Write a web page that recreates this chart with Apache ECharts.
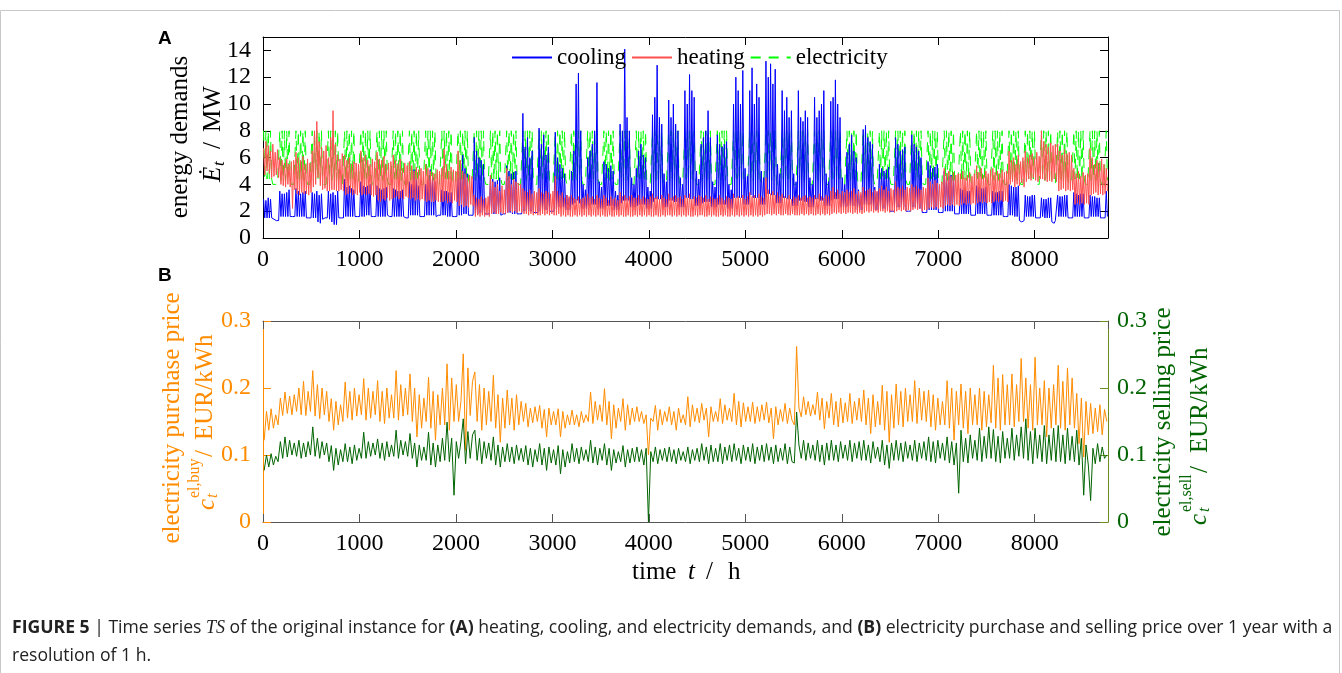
<!DOCTYPE html>
<html>
<head>
<meta charset="utf-8">
<script src="https://cdn.jsdelivr.net/npm/echarts@6/dist/echarts.min.js"></script>
<style>
  html, body { margin: 0; padding: 0; background: #fff; }
  #main { width: 1342px; height: 673px; }
</style>
</head>
<body>
<div id="main"></div>
<script>
// demands: two readings per day (day / night), one row per week
// prices: one reading per day, one row per week
const HALF_DAY_H = 12;
const DAY_H = 24;

// cooling demand, MW
const cooling = [
  2.9,1.5,2.8,1.5,3.0,1.5,2.9,1.5,1.4,1.4,1.3,1.3,1.2,1.3,
  3.5,1.6,3.3,1.6,3.3,1.6,3.4,1.6,3.6,1.6,1.6,1.6,1.5,1.6,
  3.7,1.6,3.5,1.6,3.3,1.6,3.4,1.6,3.5,1.5,1.5,1.5,1.5,1.5,
  3.4,1.5,3.3,1.5,3.5,1.2,3.2,1.1,3.3,1.4,1.4,1.5,1.5,1.5,
  3.5,1.4,3.3,1.2,3.4,1.0,3.2,1.0,3.5,1.5,1.5,1.5,1.5,1.5,
  4.4,1.6,3.8,1.6,3.9,1.6,3.7,1.6,3.6,1.6,1.6,1.6,1.6,1.6,
  4.2,1.6,3.9,1.6,3.8,1.7,3.9,1.7,4.0,1.6,1.6,1.6,1.6,1.6,
  3.9,1.6,3.7,1.6,3.6,1.6,3.7,1.6,3.8,1.7,1.7,1.6,1.6,1.6,
  3.7,1.6,3.6,1.6,3.5,1.6,3.5,1.6,3.6,1.6,1.6,1.5,1.5,1.5,
  4.2,1.7,4.0,1.7,5.1,1.7,4.4,1.7,3.9,1.6,1.6,1.6,1.6,1.6,
  4.0,1.7,4.3,1.7,5.1,1.7,4.5,1.7,4.2,1.6,1.6,1.7,1.7,1.7,
  3.6,1.7,3.5,1.7,3.5,1.6,3.4,1.6,3.4,1.6,1.6,1.6,1.6,1.6,
  4.5,1.7,5.0,1.7,6.2,1.8,5.2,1.8,4.8,1.7,1.7,1.7,1.7,1.7,
  7.5,1.8,6.5,1.8,6.0,1.9,5.8,1.9,5.5,1.8,1.8,1.8,1.8,1.8,
  4.7,1.8,4.4,1.8,4.2,1.8,4.3,1.8,4.5,1.7,1.7,1.8,1.8,1.8,
  5.4,1.9,5.0,1.9,4.8,1.8,4.9,1.8,5.0,1.8,1.8,1.8,1.8,1.8,
  9.3,2.0,6.8,2.0,7.5,2.0,6.0,2.0,6.5,1.9,1.9,1.9,1.9,1.9,
  8.2,2.0,7.0,2.1,7.7,2.1,6.2,2.1,6.8,2.0,2.0,2.0,1.9,2.0,
  7.9,2.2,6.0,2.3,5.5,2.3,5.2,2.3,4.8,2.1,3.2,2.1,3.0,2.1,
  5.0,2.5,6.5,2.6,11.5,2.8,12.3,2.6,8.0,2.2,4.0,2.2,3.6,2.2,
  6.0,2.4,6.5,2.5,7.0,2.5,8.0,2.5,11.6,2.2,4.2,2.2,3.8,2.2,
  5.7,2.3,5.5,2.4,5.2,2.4,5.4,2.4,5.0,2.1,3.5,2.1,3.2,2.1,
  8.5,2.6,8.0,2.8,14.1,2.8,9.0,2.8,8.0,2.3,4.5,2.3,4.0,2.3,
  5.2,2.4,6.5,2.5,7.0,2.5,6.2,2.5,6.0,2.2,3.8,2.2,3.5,2.2,
  9.2,2.7,10.5,2.9,12.9,2.9,9.0,2.9,8.5,2.3,4.8,2.3,4.2,2.3,
  10.3,2.8,9.0,2.8,10.0,2.7,8.5,2.7,8.0,2.3,4.5,2.3,4.0,2.3,
  11.0,3.0,10.0,3.0,12.2,2.9,11.0,2.9,10.5,2.4,5.0,2.4,4.4,2.4,
  7.0,2.6,7.5,2.7,8.0,2.7,9.5,2.7,7.5,2.3,4.2,2.3,3.8,2.3,
  7.7,2.5,7.0,2.5,6.8,2.5,7.0,2.5,7.2,2.2,4.0,2.2,3.6,2.2,
  10.0,3.0,12.0,3.0,11.0,3.0,10.0,3.0,12.5,2.5,5.2,2.5,4.6,2.5,
  11.0,3.2,12.7,3.0,10.0,3.0,11.5,3.0,10.5,2.5,5.0,2.5,4.5,2.5,
  13.2,3.3,12.0,3.3,13.0,3.2,11.5,3.2,12.6,2.6,5.5,2.6,4.8,2.6,
  11.0,3.0,9.5,3.0,10.5,2.9,9.0,2.9,9.5,2.4,4.8,2.4,4.2,2.4,
  11.0,2.8,9.0,2.8,8.7,2.7,9.5,2.7,9.0,2.3,4.5,2.3,4.0,2.3,
  10.5,2.9,9.0,2.9,9.5,2.8,10.0,2.8,11.0,2.4,4.8,2.4,4.2,2.4,
  10.2,2.8,10.5,2.9,11.8,2.9,10.0,2.9,9.0,2.3,4.5,2.3,4.0,2.3,
  6.4,2.4,7.0,2.4,7.7,2.4,6.5,2.4,6.0,2.1,3.6,2.1,3.2,2.1,
  8.1,2.5,8.4,2.5,7.5,2.5,7.2,2.5,7.0,2.1,3.8,2.1,3.4,2.1,
  5.5,2.2,5.2,2.2,5.0,2.2,5.1,2.2,5.3,2.0,2.0,2.0,1.9,2.0,
  7.5,2.3,7.0,2.3,6.5,2.3,6.6,2.3,6.8,2.0,2.0,2.0,1.9,2.0,
  7.7,2.3,7.0,2.3,6.8,2.2,6.5,2.2,6.0,1.9,1.9,1.9,1.9,1.9,
  5.7,2.1,5.4,2.1,5.2,2.1,5.3,2.1,5.5,1.9,1.9,1.9,1.8,1.9,
  5.0,2.0,4.8,2.0,4.6,2.0,4.7,2.0,4.8,1.8,1.8,1.8,1.8,1.8,
  3.7,1.8,3.6,1.8,3.6,1.8,3.5,1.8,3.5,1.7,1.7,1.7,1.7,1.7,
  3.9,1.8,3.8,1.8,3.7,1.8,3.7,1.8,3.8,1.7,1.7,1.7,1.6,1.7,
  3.5,1.7,3.4,1.7,3.4,1.7,3.5,1.7,3.5,1.6,1.6,1.6,1.6,1.6,
  4.0,1.7,3.9,1.7,3.8,1.6,3.8,1.6,3.9,1.3,1.2,1.2,1.3,1.3,
  3.2,1.6,3.1,1.6,3.1,1.6,3.2,1.6,3.2,1.5,1.5,1.5,1.5,1.5,
  3.0,1.6,2.9,1.5,2.9,1.5,3.0,1.5,3.0,1.2,1.1,1.1,1.3,1.3,
  3.2,1.6,3.1,1.6,3.1,1.6,3.2,1.6,3.2,1.5,1.5,1.5,1.5,1.5,
  3.4,1.6,3.3,1.6,3.2,1.6,3.3,1.6,3.3,1.5,1.5,1.5,1.5,1.5,
  3.2,1.6,3.1,1.6,3.1,1.6,3.0,1.6,3.0,1.5,1.5,1.5,1.5,1.5,
  3.5,1.6
];

// heating demand, MW
const heating = [
  6.7,4.7,7.2,5.0,6.9,4.8,6.5,4.5,7.0,4.6,6.4,4.7,6.6,4.5,
  6.0,4.0,5.8,3.9,5.6,3.8,5.9,4.0,5.5,3.8,5.7,2.2,5.8,3.6,
  6.4,3.3,6.0,3.2,5.8,3.4,6.1,3.3,5.5,3.3,5.9,3.2,5.6,3.4,
  6.5,3.8,8.0,4.0,8.7,4.5,7.2,3.9,6.8,3.6,6.5,3.7,6.9,3.5,
  6.0,3.5,7.5,3.6,9.5,3.6,7.0,3.5,6.2,3.5,5.9,3.6,6.3,3.5,
  6.2,3.2,5.8,3.3,6.0,3.4,5.5,3.2,5.7,3.3,5.6,3.2,5.5,3.4,
  6.5,3.2,6.0,3.3,6.2,3.2,5.8,3.3,5.5,3.2,5.9,3.1,5.7,3.2,
  6.4,2.8,5.9,2.7,5.8,2.9,6.1,2.8,5.5,3.0,5.6,2.8,5.7,2.9,
  6.2,3.0,5.8,3.1,5.5,2.9,5.9,3.0,5.2,2.9,5.6,3.1,5.4,3.0,
  5.7,2.9,5.4,3.0,5.0,2.8,5.3,2.9,5.1,2.8,5.2,2.9,5.0,2.8,
  5.5,2.7,5.2,2.8,5.0,2.7,4.9,2.7,4.8,2.8,5.1,2.7,5.0,2.7,
  5.2,2.7,6.6,2.8,5.5,2.6,5.0,2.7,5.3,2.6,5.1,2.8,5.0,2.7,
  6.5,2.4,5.8,2.5,5.0,2.3,4.8,2.4,4.5,2.3,4.7,2.5,4.6,2.4,
  3.2,1.6,3.0,1.7,2.9,1.6,3.1,1.7,2.9,1.6,3.0,1.7,3.1,1.6,
  4.7,1.8,4.2,1.9,3.8,1.8,4.0,1.8,3.5,1.9,3.9,1.8,3.6,1.8,
  5.2,1.9,4.6,2.0,4.0,1.9,4.4,2.0,4.2,1.9,4.1,2.0,4.0,1.9,
  3.7,1.8,3.5,1.8,3.4,1.7,3.6,1.8,3.3,1.7,3.5,1.8,3.4,1.7,
  3.7,1.7,3.4,1.8,3.3,1.7,3.5,1.8,3.4,1.7,3.3,1.8,3.5,1.7,
  4.6,1.7,3.5,1.8,3.2,1.6,3.4,1.7,3.0,1.6,3.2,1.7,3.1,1.6,
  3.2,1.6,3.0,1.7,2.9,1.6,3.1,1.7,2.9,1.6,3.0,1.7,3.1,1.6,
  3.3,1.7,3.0,1.6,3.1,1.7,2.9,1.6,3.2,1.7,3.0,1.6,2.9,1.7,
  3.2,1.6,3.0,1.6,2.8,1.7,3.1,1.6,2.9,1.6,3.0,1.7,2.8,1.6,
  3.4,1.7,3.1,1.6,3.2,1.6,3.0,1.7,3.1,1.6,3.2,1.6,3.0,1.7,
  3.0,1.6,3.2,1.7,2.9,1.6,3.1,1.7,3.0,1.6,2.9,1.7,3.1,1.6,
  3.3,1.6,3.0,1.7,3.1,1.6,2.9,1.6,3.2,1.7,3.0,1.6,2.9,1.7,
  3.3,1.7,3.0,1.6,3.1,1.7,3.2,1.6,3.0,1.7,3.1,1.6,2.9,1.7,
  3.2,1.6,3.0,1.7,3.3,1.6,2.9,1.6,3.1,1.7,3.0,1.6,3.2,1.7,
  3.1,1.7,3.0,1.6,3.2,1.6,2.9,1.7,3.1,1.6,3.0,1.7,2.9,1.6,
  3.0,1.6,3.2,1.7,3.0,1.6,2.8,1.7,3.1,1.6,3.0,1.6,2.9,1.7,
  3.3,1.6,3.0,1.7,3.1,1.6,3.0,1.7,3.2,1.6,2.9,1.7,3.1,1.6,
  3.4,1.7,3.1,1.6,3.2,1.7,3.0,1.6,3.3,1.7,3.1,1.6,3.0,1.7,
  4.5,1.8,3.6,1.8,3.3,1.7,3.5,1.8,3.2,1.7,3.4,1.8,3.1,1.7,
  3.3,1.7,3.1,1.8,3.0,1.7,3.2,1.7,2.9,1.8,3.1,1.7,3.0,1.7,
  3.2,1.7,3.0,1.8,3.1,1.7,3.2,1.8,3.0,1.7,3.1,1.8,3.0,1.7,
  3.2,1.7,3.0,1.8,3.3,1.7,3.1,1.8,3.0,1.7,3.2,1.8,3.1,1.7,
  3.5,1.8,3.8,1.9,3.4,1.8,3.6,1.9,3.3,1.8,3.5,1.9,3.4,1.8,
  3.6,1.9,3.4,1.9,3.5,1.8,3.7,1.9,3.3,1.8,3.5,1.9,3.4,1.8,
  3.8,1.9,3.5,2.0,3.6,1.9,3.7,2.0,3.4,1.9,3.6,2.0,3.5,1.9,
  3.7,2.0,3.9,2.0,3.6,1.9,3.8,2.0,3.5,1.9,3.7,2.0,3.6,1.9,
  4.2,2.0,3.8,2.1,3.7,2.0,3.9,2.1,3.6,2.0,3.8,2.1,3.7,2.0,
  4.0,2.1,3.8,2.2,3.9,2.1,3.7,2.2,3.6,2.0,3.8,2.1,3.7,2.1,
  4.5,2.2,4.2,2.3,4.0,2.2,4.3,2.3,4.1,2.2,4.0,2.3,4.2,2.2,
  5.2,2.4,4.8,2.5,5.0,2.4,4.6,2.5,4.9,2.4,4.7,2.5,4.8,2.4,
  4.8,2.5,5.0,2.6,4.5,2.5,4.7,2.6,4.9,2.5,4.6,2.6,4.8,2.5,
  5.4,2.6,4.9,2.7,5.2,2.6,4.7,2.7,5.0,2.6,4.8,2.7,5.1,2.6,
  5.2,2.7,4.9,2.8,5.0,2.7,4.8,2.8,5.1,2.7,4.9,2.8,5.0,2.7,
  6.5,4.0,5.8,4.2,6.0,3.8,5.5,4.0,6.2,3.9,5.7,4.1,6.0,3.8,
  6.5,4.2,6.0,4.4,6.2,4.3,6.3,4.5,6.0,4.3,6.4,4.2,6.1,4.4,
  8.0,4.4,7.2,4.3,7.0,4.2,6.8,4.3,7.1,4.2,6.9,4.4,7.0,4.2,
  7.0,3.5,6.5,3.6,6.2,3.7,6.6,3.5,6.3,3.6,6.4,3.5,6.2,3.6,
  5.2,2.5,4.8,2.6,5.0,2.5,4.6,2.6,4.9,2.5,4.7,2.6,4.8,2.5,
  6.7,3.2,6.0,3.3,5.5,3.4,5.8,3.2,5.6,3.3,5.9,3.2,5.5,3.3,
  5.2,3.5
];

// electricity demand, MW
const electricity = [
  8,4.3,8,4.4,8,4.3,8,4.4,4,4,4,4,4,4,
  8,4.3,8,4.4,8,4.3,8,4.4,8,4.3,4,4,4,4,
  8,4.4,8,4.3,8,4.4,8,4.3,8,4.4,4,4,4,4,
  8,4.3,8,4.4,8,4.3,8,4.4,8,4.3,4,4,4,4,
  8,4.4,8,4.3,8,4.4,8,4.3,8,4.4,4,4,4,4,
  8,4.3,8,4.4,8,4.3,8,4.4,8,4.3,4,4,4,4,
  8,4.4,8,4.3,8,4.4,8,4.3,8,4.4,4,4,4,4,
  8,4.3,8,4.4,8,4.3,8,4.4,8,4.3,4,4,4,4,
  8,4.4,8,4.3,8,4.4,8,4.3,8,4.4,4,4,4,4,
  8,4.3,8,4.4,8,4.3,8,4.4,8,4.3,4,4,4,4,
  8,4.4,8,4.3,8,4.4,8,4.3,8,4.4,4,4,4,4,
  8,4.3,8,4.4,8,4.3,8,4.4,8,4.3,4,4,4,4,
  8,4.4,8,4.3,8,4.4,8,4.3,8,4.4,4,4,4,4,
  8,4.3,8,4.4,8,4.3,8,4.4,8,4.3,4,4,4,4,
  8,4.4,8,4.3,8,4.4,8,4.3,8,4.4,4,4,4,4,
  8,4.3,8,4.4,8,4.3,8,4.4,8,4.3,4,4,4,4,
  8,4.4,8,4.3,8,4.4,8,4.3,8,4.4,4,4,4,4,
  8,4.3,8,4.4,8,4.3,8,4.4,8,4.3,4,4,4,4,
  8,4.4,8,4.3,8,4.4,8,4.3,8,4.4,4,4,4,4,
  8,4.3,8,4.4,8,4.3,8,4.4,8,4.3,4,4,4,4,
  8,4.4,8,4.3,8,4.4,8,4.3,8,4.4,4,4,4,4,
  8,4.3,8,4.4,8,4.3,8,4.4,8,4.3,4,4,4,4,
  8,4.4,8,4.3,8,4.4,8,4.3,8,4.4,4,4,4,4,
  8,4.3,8,4.4,8,4.3,8,4.4,8,4.3,4,4,4,4,
  8,4.4,8,4.3,8,4.4,8,4.3,8,4.4,4,4,4,4,
  8,4.3,8,4.4,8,4.3,8,4.4,8,4.3,4,4,4,4,
  8,4.4,8,4.3,8,4.4,8,4.3,8,4.4,4,4,4,4,
  8,4.3,8,4.4,8,4.3,8,4.4,8,4.3,4,4,4,4,
  8,4.4,8,4.3,8,4.4,8,4.3,8,4.4,4,4,4,4,
  8,4.3,8,4.4,8,4.3,8,4.4,8,4.3,4,4,4,4,
  8,4.4,8,4.3,8,4.4,8,4.3,8,4.4,4,4,4,4,
  8,4.3,8,4.4,8,4.3,8,4.4,8,4.3,4,4,4,4,
  8,4.4,8,4.3,8,4.4,8,4.3,8,4.4,4,4,4,4,
  8,4.3,8,4.4,8,4.3,8,4.4,8,4.3,4,4,4,4,
  8,4.4,8,4.3,8,4.4,8,4.3,8,4.4,4,4,4,4,
  8,4.3,8,4.4,8,4.3,8,4.4,8,4.3,4,4,4,4,
  8,4.4,8,4.3,8,4.4,8,4.3,8,4.4,4,4,4,4,
  8,4.3,8,4.4,8,4.3,8,4.4,8,4.3,4,4,4,4,
  8,4.4,8,4.3,8,4.4,8,4.3,8,4.4,4,4,4,4,
  8,4.3,8,4.4,8,4.3,8,4.4,8,4.3,4,4,4,4,
  8,4.4,8,4.3,8,4.4,8,4.3,8,4.4,4,4,4,4,
  8,4.3,8,4.4,8,4.3,8,4.4,8,4.3,4,4,4,4,
  8,4.4,8,4.3,8,4.4,8,4.3,8,4.4,4,4,4,4,
  8,4.3,8,4.4,8,4.3,8,4.4,8,4.3,4,4,4,4,
  8,4.4,8,4.3,8,4.4,8,4.3,8,4.4,4,4,4,4,
  8,4.3,8,4.4,8,4.3,8,4.4,8,4.3,4,4,4,4,
  8,4.4,8,4.3,8,4.4,8,4.3,8,4.4,4,4,4,4,
  8,4.3,8,4.4,8,4.3,8,4.4,8,4.3,4,4,4,4,
  8,4.4,8,4.3,8,4.4,8,4.3,8,4.4,4,4,4,4,
  8,4.3,8,4.4,8,4.3,8,4.4,8,4.3,4,4,4,4,
  8,4.4,8,4.3,8,4.4,8,4.3,8,4.4,4,4,4,4,
  8,4.3,8,4.4,8,4.3,8,4.4,8,4.3,4,4,4,4,
  8,4.3
];

// electricity purchase price, EUR/kWh
const priceBuy = [
  .122,.165,.137,.169,.140,.160,.145,
  .185,.159,.194,.162,.188,.160,.190,
  .165,.200,.160,.210,.159,.195,.165,
  .226,.158,.205,.154,.200,.160,.195,
  .150,.184,.137,.180,.145,.175,.150,
  .209,.155,.195,.152,.200,.158,.190,
  .160,.214,.152,.200,.155,.195,.160,
  .211,.150,.195,.147,.200,.155,.190,
  .155,.226,.152,.205,.158,.200,.160,
  .221,.150,.200,.127,.190,.140,.185,
  .150,.216,.140,.195,.122,.190,.145,
  .200,.145,.236,.137,.215,.150,.205,
  .150,.180,.251,.107,.230,.159,.210,
  .224,.150,.205,.137,.200,.145,.195,
  .150,.219,.140,.190,.119,.185,.140,
  .197,.145,.185,.137,.190,.145,.180,
  .150,.177,.142,.170,.148,.172,.150,
  .174,.140,.168,.127,.170,.145,.165,
  .145,.169,.127,.165,.140,.160,.145,
  .167,.145,.160,.142,.165,.148,.160,
  .150,.194,.147,.180,.152,.175,.150,
  .199,.145,.180,.124,.175,.140,.170,
  .150,.184,.137,.175,.145,.170,.150,
  .172,.150,.165,.147,.160,.100,.155,
  .150,.174,.137,.168,.145,.165,.150,
  .172,.145,.165,.137,.170,.148,.160,
  .145,.187,.142,.175,.150,.170,.148,
  .177,.152,.170,.127,.172,.150,.165,
  .150,.184,.147,.175,.152,.170,.150,
  .192,.145,.180,.142,.178,.150,.172,
  .150,.179,.147,.172,.150,.175,.152,
  .179,.148,.170,.124,.172,.145,.168,
  .150,.177,.147,.170,.152,.145,.262,
  .170,.157,.187,.160,.180,.158,.175,
  .160,.194,.152,.185,.139,.180,.155,
  .192,.145,.180,.142,.185,.148,.178,
  .150,.192,.147,.180,.152,.185,.150,
  .197,.145,.185,.132,.190,.142,.180,
  .145,.204,.137,.195,.119,.190,.140,
  .206,.145,.195,.142,.200,.150,.190,
  .150,.211,.147,.200,.152,.195,.150,
  .197,.142,.190,.137,.185,.145,.180,
  .145,.211,.140,.200,.122,.195,.145,
  .206,.140,.195,.132,.200,.145,.190,
  .145,.200,.137,.195,.142,.190,.148,
  .234,.140,.215,.137,.220,.145,.205,
  .145,.221,.142,.205,.150,.244,.150,
  .215,.140,.205,.137,.246,.145,.200,
  .145,.211,.127,.200,.140,.205,.145,
  .234,.140,.210,.137,.230,.145,.215,
  .140,.192,.117,.185,.097,.180,.130,
  .177,.132,.170,.135,.175,.130,.168,
  .150
];

// electricity selling price, EUR/kWh
const priceSell = [
  .077,.100,.082,.102,.085,.098,.090,
  .120,.095,.127,.097,.122,.100,.118,
  .098,.122,.095,.118,.097,.120,.100,
  .142,.098,.125,.095,.120,.100,.118,
  .090,.114,.077,.110,.085,.108,.090,
  .117,.090,.112,.087,.115,.092,.110,
  .095,.134,.095,.120,.098,.118,.100,
  .124,.095,.118,.092,.120,.097,.115,
  .098,.137,.095,.122,.100,.120,.098,
  .132,.095,.118,.082,.115,.092,.112,
  .092,.134,.085,.118,.082,.115,.090,
  .125,.092,.149,.090,.125,.040,.120,
  .095,.120,.154,.087,.135,.095,.130,
  .137,.092,.125,.087,.120,.095,.118,
  .092,.127,.085,.115,.082,.112,.090,
  .117,.090,.112,.087,.115,.092,.110,
  .090,.114,.085,.110,.082,.108,.090,
  .117,.085,.110,.077,.112,.088,.108,
  .085,.114,.072,.108,.082,.105,.088,
  .117,.090,.110,.087,.112,.092,.108,
  .090,.122,.088,.112,.085,.110,.092,
  .117,.085,.110,.077,.108,.088,.105,
  .090,.114,.082,.108,.088,.110,.090,
  .112,.090,.108,.085,.110,.000,.105,
  .090,.112,.087,.108,.092,.110,.090,
  .112,.090,.108,.087,.110,.092,.105,
  .090,.112,.087,.108,.092,.110,.090,
  .117,.092,.112,.087,.115,.090,.110,
  .090,.117,.087,.112,.092,.115,.090,
  .117,.092,.110,.087,.115,.092,.112,
  .090,.117,.087,.112,.092,.115,.090,
  .117,.092,.112,.087,.115,.090,.110,
  .092,.117,.087,.112,.090,.088,.164,
  .115,.095,.122,.092,.118,.095,.115,
  .092,.122,.090,.115,.085,.118,.092,
  .122,.092,.115,.090,.120,.095,.115,
  .092,.122,.090,.118,.095,.120,.092,
  .122,.092,.115,.088,.120,.095,.112,
  .090,.122,.085,.115,.080,.118,.092,
  .122,.092,.118,.090,.120,.095,.115,
  .092,.122,.090,.118,.095,.120,.092,
  .127,.090,.120,.088,.122,.095,.118,
  .092,.127,.088,.120,.085,.118,.043,
  .137,.090,.125,.088,.130,.095,.122,
  .092,.140,.090,.128,.095,.142,.095,
  .138,.090,.128,.088,.135,.095,.125,
  .095,.140,.092,.130,.098,.142,.095,
  .154,.092,.135,.087,.140,.095,.130,
  .090,.144,.087,.130,.092,.140,.090,
  .144,.090,.130,.087,.140,.092,.128,
  .090,.137,.085,.125,.040,.115,.085,
  .032,.110,.087,.117,.090,.112,.095,
  .100
];

const xTicks = { min: 0, max: 8760, interval: 1000 };
const demandTicks = { min: 0, max: 15, interval: 2 };
const priceTicks = { min: 0, max: 0.3, interval: 0.1 };

const SERIF = "'Liberation Serif', 'DejaVu Serif', serif";
const SANS = "'Liberation Sans', Arial, sans-serif";
const CAPTION_FONT = "'Open Sans', 'Liberation Sans', sans-serif";
const ORANGE = '#ff8c00';
const DGREEN = '#006400';
const OLIVE = '#6b8e23';

function toPoints(arr, step) {
  return arr.map((v, i) => [i * step + step / 2, v]);
}

const gridA = { left: 263, top: 37, width: 845, height: 201 };
const gridB = { left: 263, top: 321, width: 845, height: 201 };

function xAxisCfg(grid, pos, showLabel, lineColor) {
  return {
    type: 'value', gridIndex: grid, position: pos,
    min: xTicks.min, max: xTicks.max, interval: xTicks.interval,
    axisLine: { show: true, onZero: false, lineStyle: { color: lineColor, width: 1 } },
    axisTick: { show: true, inside: true, length: 8, lineStyle: { color: lineColor } },
    axisLabel: { show: showLabel, margin: 10, showMaxLabel: false,
      fontFamily: SERIF, fontSize: 24, color: '#000',
      formatter: v => String(v) },
    splitLine: { show: false }
  };
}

function yAxisCfg(grid, pos, ticks, showLabel, lineColor, labelColor, fmt) {
  return {
    type: 'value', gridIndex: grid, position: pos,
    min: ticks.min, max: ticks.max, interval: ticks.interval,
    axisLine: { show: true, onZero: false, lineStyle: { color: lineColor, width: 1 } },
    axisTick: { show: true, inside: true, length: 8, lineStyle: { color: lineColor } },
    axisLabel: { show: showLabel, margin: pos === 'left' ? 12 : 9, showMaxLabel: fmt ? true : false,
      fontFamily: SERIF, fontSize: 24, color: labelColor,
      formatter: fmt || (v => String(v)) },
    splitLine: { show: false }
  };
}

const priceFmt = v => (Math.round(v * 10) / 10).toString();

const chart = echarts.init(document.getElementById('main'), null, { renderer: 'canvas' });

const option = {
  animation: false,
  backgroundColor: '#fff',
  grid: [
    Object.assign({ outerBoundsMode: 'none', containLabel: false }, gridA),
    Object.assign({ outerBoundsMode: 'none', containLabel: false }, gridB)
  ],
  xAxis: [
    xAxisCfg(0, 'bottom', true, '#000'),
    xAxisCfg(0, 'top', false, '#000'),
    xAxisCfg(1, 'bottom', true, '#555'),
    xAxisCfg(1, 'top', false, '#555')
  ],
  yAxis: [
    yAxisCfg(0, 'left', demandTicks, true, '#000', '#000', null),
    yAxisCfg(0, 'right', demandTicks, false, '#000', '#000', null),
    yAxisCfg(1, 'left', priceTicks, true, ORANGE, ORANGE, priceFmt),
    yAxisCfg(1, 'right', priceTicks, true, OLIVE, DGREEN, priceFmt)
  ],
  legend: {
    show: true,
    left: 511, top: 46, padding: 0,
    orient: 'horizontal',
    itemWidth: 40, itemHeight: 14, itemGap: 5,
    selectedMode: false,
    itemStyle: { opacity: 0, borderWidth: 0 },
    data: ['cooling', 'heating', 'electricity'],
    textStyle: { fontFamily: SERIF, fontSize: 23, color: '#000' }
  },
  series: [
    { name: 'electricity', type: 'line', xAxisIndex: 0, yAxisIndex: 0,
      data: toPoints(electricity, HALF_DAY_H), symbol: 'none', showSymbol: false,
      lineStyle: { color: '#00ff00', width: 1, type: [10, 8] }, itemStyle: { color: '#00ff00' } },
    { name: 'cooling', type: 'line', xAxisIndex: 0, yAxisIndex: 0,
      data: toPoints(cooling, HALF_DAY_H), symbol: 'none', showSymbol: false,
      lineStyle: { color: '#0000ff', width: 1 }, itemStyle: { color: '#0000ff' } },
    { name: 'heating', type: 'line', xAxisIndex: 0, yAxisIndex: 0,
      data: toPoints(heating, HALF_DAY_H), symbol: 'none', showSymbol: false,
      lineStyle: { color: '#ff5050', width: 1 }, itemStyle: { color: '#ff5050' } },
    { name: 'purchase', type: 'line', xAxisIndex: 2, yAxisIndex: 2,
      data: toPoints(priceBuy, DAY_H), symbol: 'none', showSymbol: false,
      lineStyle: { color: ORANGE, width: 1 }, itemStyle: { color: ORANGE } },
    { name: 'selling', type: 'line', xAxisIndex: 2, yAxisIndex: 3,
      data: toPoints(priceSell, DAY_H), symbol: 'none', showSymbol: false,
      lineStyle: { color: DGREEN, width: 1 }, itemStyle: { color: DGREEN } }
  ],
  graphic: [
    // outer figure frame
    { type: 'rect', silent: true, z: -10,
      shape: { x: 0.5, y: 10.5, width: 1339, height: 720 },
      style: { fill: 'none', stroke: '#c8c8c8', lineWidth: 1 } },
    // panel letters
    { type: 'text', x: 158, y: 39, silent: true,
      style: { text: 'A', font: 'bold 19px ' + SANS, fill: '#000', verticalAlign: 'middle' } },
    { type: 'text', x: 158, y: 276, silent: true,
      style: { text: 'B', font: 'bold 19px ' + SANS, fill: '#000', verticalAlign: 'middle' } },
    // y name, panel A
    { type: 'group', x: 197, y: 137, rotation: Math.PI / 2, silent: true, children: [
      { type: 'text', x: 0, y: -17, style: { text: 'energy demands', font: '25px ' + SERIF, fill: '#000', align: 'center', verticalAlign: 'middle' } },
      { type: 'text', x: -45, y: 16, style: { text: 'Ė', font: 'italic 25px ' + SERIF, fill: '#000', align: 'left', verticalAlign: 'middle' } },
      { type: 'text', x: -29, y: 23, style: { text: 't', font: 'italic 17px ' + SERIF, fill: '#000', align: 'left', verticalAlign: 'middle' } },
      { type: 'text', x: -12, y: 16, style: { text: '/', font: '25px ' + SERIF, fill: '#000', align: 'left', verticalAlign: 'middle' } },
      { type: 'text', x: 5, y: 16, style: { text: 'MW', font: '25px ' + SERIF, fill: '#000', align: 'left', verticalAlign: 'middle' } }
    ] },
    // y name, panel B left
    { type: 'group', x: 189, y: 418, rotation: Math.PI / 2, silent: true, children: [
      { type: 'text', x: 0, y: -17, style: { text: 'electricity purchase price', font: '25px ' + SERIF, fill: ORANGE, align: 'center', verticalAlign: 'middle' } },
      { type: 'text', x: -92, y: 18, style: { text: 'c', font: 'italic 25px ' + SERIF, fill: ORANGE, align: 'left', verticalAlign: 'middle' } },
      { type: 'text', x: -80, y: 6, style: { text: 'el,buy', font: '16px ' + SERIF, fill: ORANGE, align: 'left', verticalAlign: 'middle' } },
      { type: 'text', x: -80, y: 24, style: { text: 't', font: 'italic 16px ' + SERIF, fill: ORANGE, align: 'left', verticalAlign: 'middle' } },
      { type: 'text', x: -39, y: 16, style: { text: '/', font: '25px ' + SERIF, fill: ORANGE, align: 'left', verticalAlign: 'middle' } },
      { type: 'text', x: -22, y: 16, style: { text: 'EUR/kWh', font: '25px ' + SERIF, fill: ORANGE, align: 'left', verticalAlign: 'middle' } }
    ] },
    // y name, panel B right
    { type: 'group', x: 1180, y: 425, rotation: Math.PI / 2, silent: true, children: [
      { type: 'text', x: 3, y: -17, style: { text: 'electricity selling price', font: '25px ' + SERIF, fill: DGREEN, align: 'center', verticalAlign: 'middle' } },
      { type: 'text', x: -100, y: 19, style: { text: 'c', font: 'italic 25px ' + SERIF, fill: DGREEN, align: 'left', verticalAlign: 'middle' } },
      { type: 'text', x: -87, y: 7, style: { text: 'el,sell', font: '16px ' + SERIF, fill: DGREEN, align: 'left', verticalAlign: 'middle' } },
      { type: 'text', x: -87, y: 25, style: { text: 't', font: 'italic 16px ' + SERIF, fill: DGREEN, align: 'left', verticalAlign: 'middle' } },
      { type: 'text', x: -48, y: 20, style: { text: '/', font: '25px ' + SERIF, fill: DGREEN, align: 'left', verticalAlign: 'middle' } },
      { type: 'text', x: -28, y: 20, style: { text: 'EUR/kWh', font: '25px ' + SERIF, fill: DGREEN, align: 'left', verticalAlign: 'middle' } }
    ] },
    // x name
    { type: 'text', x: 632, y: 572, silent: true, style: { text: 'time', font: '25px ' + SERIF, fill: '#000', verticalAlign: 'middle' } },
    { type: 'text', x: 688, y: 572, silent: true, style: { text: 't', font: 'italic 25px ' + SERIF, fill: '#000', verticalAlign: 'middle' } },
    { type: 'text', x: 706, y: 572, silent: true, style: { text: '/', font: '25px ' + SERIF, fill: '#000', verticalAlign: 'middle' } },
    { type: 'text', x: 728, y: 572, silent: true, style: { text: 'h', font: '25px ' + SERIF, fill: '#000', verticalAlign: 'middle' } },
    // caption
    { type: 'text', x: 12, y: 628, silent: true, style: {
      text: '{b|FIGURE 5} | Time series {m|TS} of the original instance for {b|(A)} heating, cooling, and electricity demands, and {b|(B)} electricity purchase and selling price over 1 year with a',
      font: '17.6px ' + CAPTION_FONT, fill: '#222', verticalAlign: 'middle',
      rich: {
        b: { fontFamily: CAPTION_FONT, fontWeight: 'bold', fontSize: 17.6, fill: '#222' },
        m: { fontFamily: SERIF, fontStyle: 'italic', fontSize: 18, fill: '#222' }
      } } },
    { type: 'text', x: 12, y: 656, silent: true, style: {
      text: 'resolution of 1 h.', font: '17.6px ' + CAPTION_FONT, fill: '#222', verticalAlign: 'middle' } }
  ]
};

chart.setOption(option);
</script>
</body>
</html>
